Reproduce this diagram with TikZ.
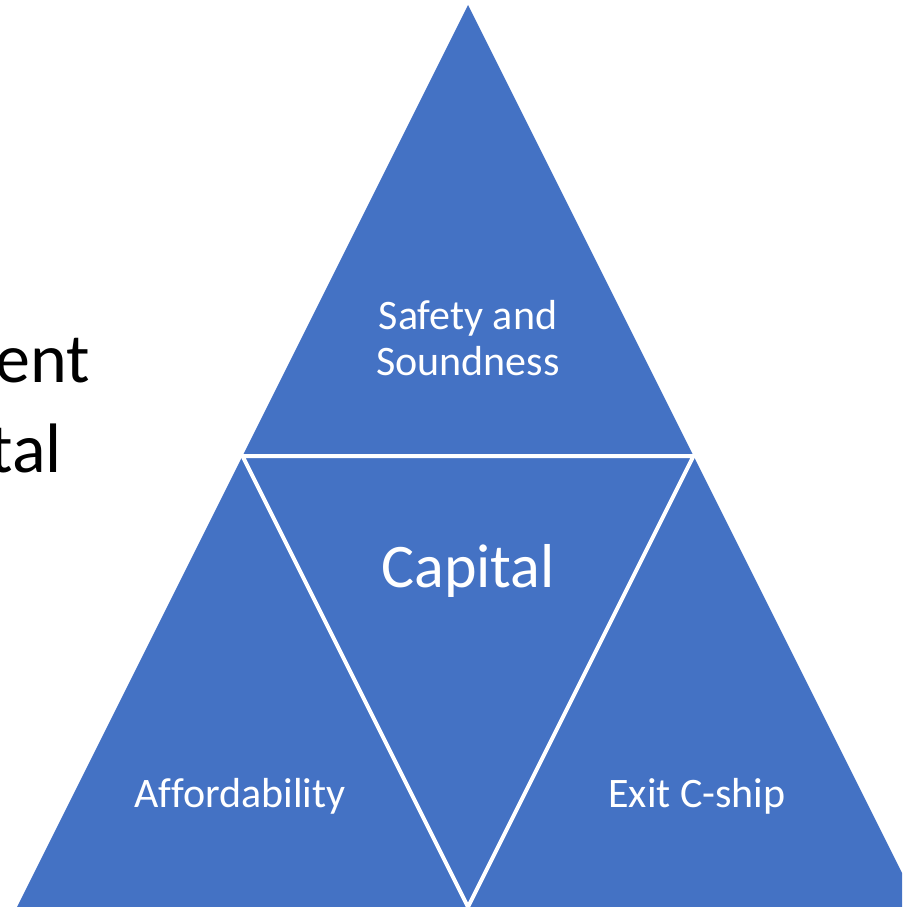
\documentclass[tikz,border=0pt]{standalone}
\usepackage{fontspec}
\setmainfont{Carlito}[Ligatures=CommonOff]
\definecolor{triblue}{HTML}{4472C4}
\tikzset{
  tri/.style={fill=triblue},
  gap/.style={draw=white, line width=4pt, line join=miter},
  label/.style={text=white, font=\fontsize{42}{50}\selectfont, align=center, inner sep=0pt, anchor=base},
  side/.style={text=black, font=\fontsize{70}{84}\selectfont, inner sep=0pt, anchor=base east}
}
\begin{document}
\begin{tikzpicture}[x=1pt, y=-1pt]
    \useasboundingbox (0,0) rectangle (902,907);
    \clip (0,0) rectangle (902,907);

    % Corners of the big triangle and its midpoints
    \coordinate (apex) at (468,5);
    \coordinate (bl) at (17,907);
    \coordinate (br) at (919,907);
    \coordinate (ml) at (242.5,456);
    \coordinate (mr) at (693.5,456);
    \coordinate (mb) at (468,907);

    % Four triangles
    \fill[tri] (apex) -- (bl) -- (br) -- cycle;
    \draw[gap] (ml) -- (mr) -- (mb) -- cycle;

    % Labels
    \node[label] (safety) at (468,329) {Safety and};
    \node[label] (sound) at (468,375) {Soundness};
    \node[label, font=\fontsize{62}{74}\selectfont] (capital) at (468,587) {Capital};
    \node[label] (afford) at (240,807) {Affordability};
    \node[label] (exit) at (697,807) {Exit C-ship};

    % Cut-off text on the left
    \node[side] (ent) at (90,382) {ent};
    \node[side] (tal) at (62,472) {tal};
\end{tikzpicture}
\end{document}
